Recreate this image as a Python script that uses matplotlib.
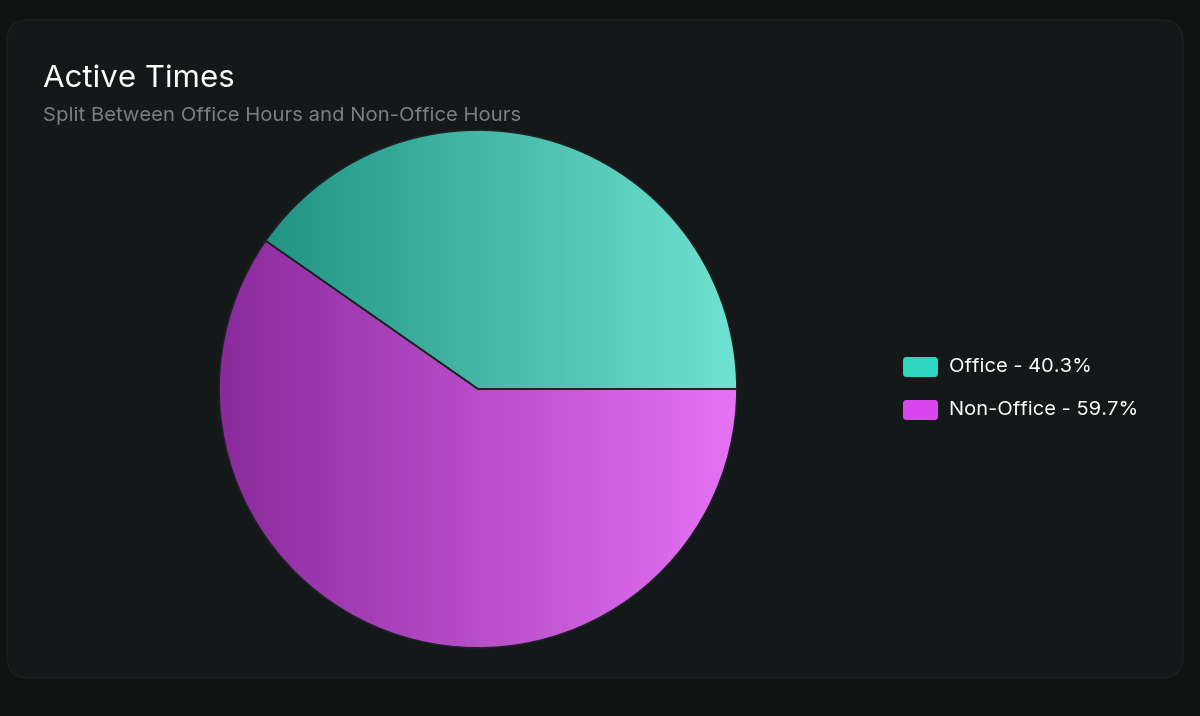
import numpy as np
import matplotlib
matplotlib.use("Agg")
import matplotlib.pyplot as plt
from matplotlib.patches import FancyBboxPatch
from matplotlib.colors import LinearSegmentedColormap

# data
labels = ["Office", "Non-Office"]
shares = [40.3, 59.7]
legend_colors = ["#2dd4bf", "#d946ef"]
grad_left = ["#1a8c7c", "#8a2a9c"]
grad_right = ["#70e2d2", "#e672f5"]

W, H = 1200, 716
fig = plt.figure(figsize=(W / 100, H / 100), dpi=100, facecolor="#111313")

# card background (kept under the axes)
card = FancyBboxPatch((7 / W, (H - 678) / H), 1176 / W, 658 / H,
                      boxstyle="round,pad=0,rounding_size=0.018",
                      transform=fig.transFigure, facecolor="#141819",
                      edgecolor="#1b2021", linewidth=1.0, mutation_aspect=W / H,
                      zorder=-10)
fig.patches.append(card)

fig.text(43 / W, (H - 87) / H, "Active Times", color="white",
         fontsize=22.5, family=["Inter", "DejaVu Sans"], va="baseline")
fig.text(43 / W, (H - 121) / H, "Split Between Office Hours and Non-Office Hours",
         color="#7b7f80", fontsize=14.6, family=["Inter", "DejaVu Sans"], va="baseline")

# pie axes, center (478, 389) px, radius ~259 px
cx, cy, r = 478, 389, 261
ax = fig.add_axes([(cx - r) / W, (H - cy - r) / H, 2 * r / W, 2 * r / H])
ax.set_facecolor("none")
wedges, _ = ax.pie(shares, startangle=0, counterclock=True, radius=1,
                   wedgeprops=dict(facecolor="none", edgecolor="#1b2222", linewidth=1.2))
grad = np.linspace(0, 1, 512).reshape(1, -1)
for i, w in enumerate(wedges):
    cmap = LinearSegmentedColormap.from_list("g%d" % i, [grad_left[i], grad_right[i]])
    im = ax.imshow(grad, extent=(-1, 1, -1, 1), cmap=cmap, aspect="auto", zorder=0.5)
    im.set_clip_path(w)
ax.set_xlim(-1.008, 1.008)
ax.set_ylim(-1.008, 1.008)
ax.set_aspect("equal")
ax.axis("off")

# legend
for i, (lab, val) in enumerate(zip(labels, shares)):
    yc = 367 + i * 43
    sw = FancyBboxPatch((903 / W, (H - yc - 10) / H), 35 / W, 20 / H,
                        boxstyle="round,pad=0,rounding_size=0.003",
                        transform=fig.transFigure, facecolor=legend_colors[i],
                        edgecolor="none", mutation_aspect=W / H)
    fig.patches.append(sw)
    fig.text(949 / W, (H - yc) / H, f"{lab} - {val}%", color="white",
             fontsize=14.5, family=["Inter", "DejaVu Sans"], va="center")

fig.savefig("out.png", dpi=100, facecolor=fig.get_facecolor())
